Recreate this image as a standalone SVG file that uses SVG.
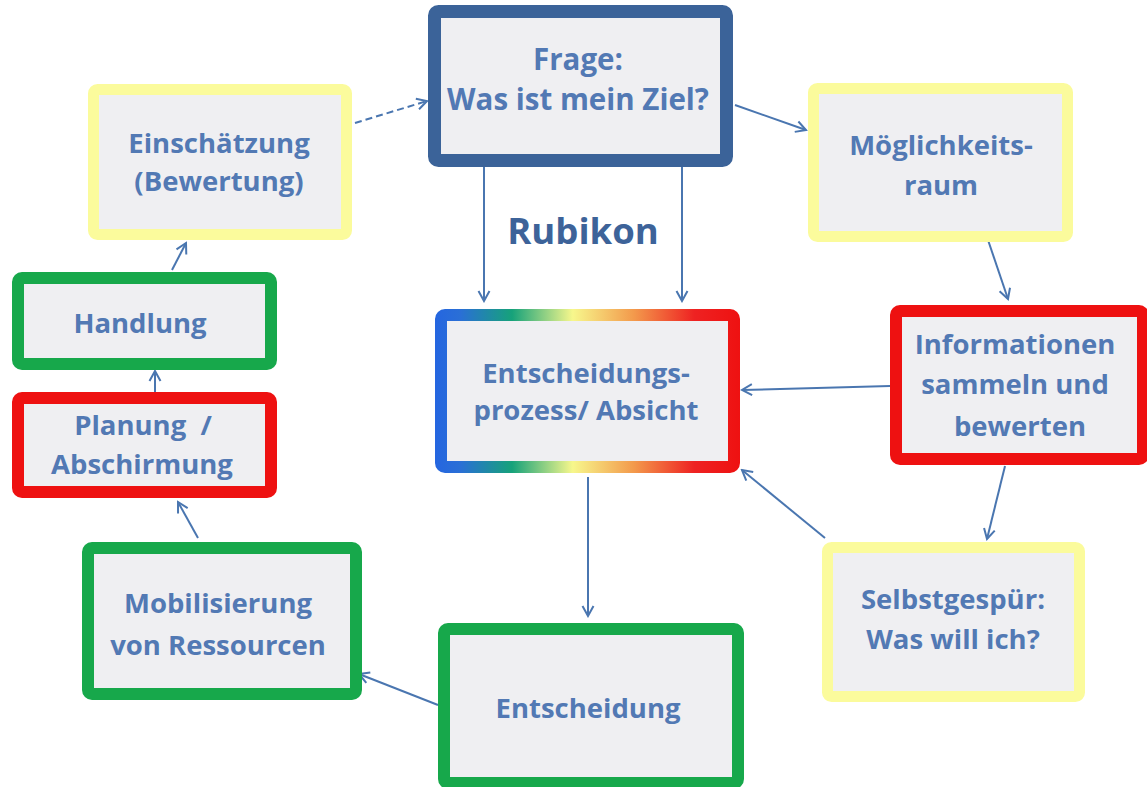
<svg xmlns="http://www.w3.org/2000/svg" width="1147" height="787" viewBox="0 0 1147 787">
<defs>
<style>
.box{fill:#efeff2}
.blue{stroke:#3b6399;stroke-width:13}
.yellow{stroke:#fbfb9c;stroke-width:11}
.green{stroke:#17a84b;stroke-width:12}
.red{stroke:#ee1111;stroke-width:12}
.lbl{font-family:"Open Sans","DejaVu Sans",sans-serif;font-weight:bold;font-size:27.5px;fill:#5279b4;text-anchor:middle}
.big{font-size:29.5px}
.rub{font-family:"Open Sans","DejaVu Sans",sans-serif;font-weight:bold;font-size:36.5px;fill:#3d6399;text-anchor:middle}
.conn{stroke:#4a76b0;stroke-width:2;fill:none;marker-end:url(#arr)}
.dash{stroke-dasharray:7 4}
</style>
<linearGradient id="rainbow" gradientUnits="userSpaceOnUse" x1="436" y1="0" x2="740" y2="0">
<stop offset="0" stop-color="#2566e0"/>
<stop offset="0.08" stop-color="#2a6fd6"/>
<stop offset="0.25" stop-color="#16a27a"/>
<stop offset="0.45" stop-color="#f7f78c"/>
<stop offset="0.65" stop-color="#f39a4c"/>
<stop offset="0.85" stop-color="#ee2222"/>
<stop offset="1" stop-color="#ee1111"/>
</linearGradient>
<marker id="arr" markerUnits="userSpaceOnUse" viewBox="0 0 14 14" refX="12" refY="7" markerWidth="14" markerHeight="14" orient="auto">
<path d="M2,1.5 L12,7 L2,12.5" fill="none" stroke="#4a76b0" stroke-width="2"/>
</marker>
</defs>
<rect width="1147" height="787" fill="#ffffff"/>

<g id="connectors">
<line class="conn dash" x1="355" y1="123" x2="427" y2="101"/>
<line class="conn" x1="735" y1="105" x2="806" y2="130"/>
<line class="conn" x1="484" y1="164" x2="484" y2="301"/>
<line class="conn" x1="682" y1="164" x2="682" y2="301"/>
<line class="conn" x1="987" y1="237" x2="1008" y2="299"/>
<line class="conn" x1="890" y1="386" x2="742" y2="390"/>
<line class="conn" x1="1005" y1="466" x2="987" y2="539"/>
<line class="conn" x1="825" y1="538" x2="742" y2="470"/>
<line class="conn" x1="588" y1="477" x2="588" y2="616"/>
<line class="conn" x1="438" y1="705" x2="359" y2="674"/>
<line class="conn" x1="198" y1="538" x2="178" y2="502"/>
<line class="conn" x1="155" y1="392" x2="155" y2="371"/>
<line class="conn" x1="172" y1="270" x2="186" y2="243"/>
</g>

<g id="frage">
<rect class="box blue" x="434.5" y="11.5" width="292" height="149" rx="4"/>
<text class="lbl big" x="578" y="70">Frage:</text>
<text class="lbl big" x="578" y="110">Was ist mein Ziel?</text>
</g>

<g id="einschaetzung">
<rect class="box yellow" x="93.5" y="89.5" width="253" height="145" rx="4"/>
<text class="lbl" x="219" y="153">Einschätzung</text>
<text class="lbl" x="219" y="191">(Bewertung)</text>
</g>

<g id="moeglichkeit">
<rect class="box yellow" x="813.5" y="88.5" width="254" height="148" rx="4"/>
<text class="lbl" x="941" y="155">Möglichkeits-</text>
<text class="lbl" x="941" y="195">raum</text>
</g>

<text class="rub" x="583" y="244">Rubikon</text>

<g id="handlung">
<rect class="box green" x="18" y="278" width="253" height="86" rx="4"/>
<text class="lbl" x="140" y="333">Handlung</text>
</g>

<g id="planung">
<rect class="box red" x="18" y="398" width="253" height="94" rx="4"/>
<text class="lbl" x="143" y="435">Planung&#160; /</text>
<text class="lbl" x="142" y="474">Abschirmung</text>
</g>

<g id="entscheidungsprozess">
<rect class="box" x="441" y="315" width="293" height="152" rx="4" stroke="url(#rainbow)" stroke-width="12"/>
<text class="lbl" x="586" y="383">Entscheidungs-</text>
<text class="lbl" x="586" y="420">prozess/ Absicht</text>
</g>

<g id="informationen">
<rect class="box red" x="896" y="311" width="247" height="148" rx="4"/>
<text class="lbl" x="1015" y="354">Informationen</text>
<text class="lbl" x="1015" y="394">sammeln und</text>
<text class="lbl" x="1020" y="436">bewerten</text>
</g>

<g id="selbstgespuer">
<rect class="box yellow" x="827.5" y="547.5" width="252" height="149" rx="4"/>
<text class="lbl" x="953" y="609">Selbstgespür:</text>
<text class="lbl" x="953" y="649">Was will ich?</text>
</g>

<g id="mobilisierung">
<rect class="box green" x="88" y="548" width="268" height="146" rx="4"/>
<text class="lbl" x="218" y="613">Mobilisierung</text>
<text class="lbl" x="218" y="655">von Ressourcen</text>
</g>

<g id="entscheidung">
<rect class="box green" x="444" y="629" width="294" height="154" rx="4"/>
<text class="lbl" x="588" y="718">Entscheidung</text>
</g>
</svg>
